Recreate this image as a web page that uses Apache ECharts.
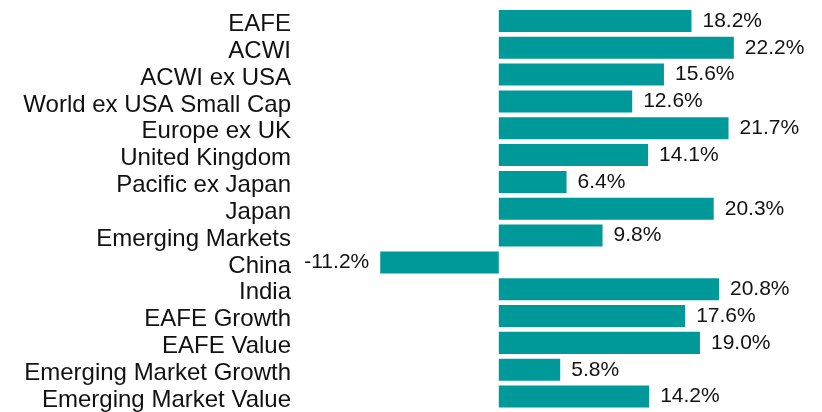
<!DOCTYPE html>
<html>
<head>
<meta charset="utf-8">
<script src="https://cdn.jsdelivr.net/npm/echarts@6/dist/echarts.min.js"></script>
<style>
  html,body{margin:0;padding:0;background:#fff;}
  #chart{width:822px;height:412px;}
</style>
</head>
<body>
<div id="chart"></div>
<script>
// data, top to bottom as in the picture
const categories = [
  "EAFE", "ACWI", "ACWI ex USA", "World ex USA Small Cap", "Europe ex UK",
  "United Kingdom", "Pacific ex Japan", "Japan", "Emerging Markets", "China",
  "India", "EAFE Growth", "EAFE Value", "Emerging Market Growth", "Emerging Market Value"
];
const returns = [18.2, 22.2, 15.6, 12.6, 21.7, 14.1, 6.4, 20.3, 9.8, -11.2, 20.8, 17.6, 19.0, 5.8, 14.2];

const BAR = "#009999";
const FONT = "'Liberation Sans', Arial, sans-serif";

const chart = echarts.init(document.getElementById("chart"));
chart.setOption({
  animation:false,
  backgroundColor:"#fff",
  grid:{left:340, top:7.5, width:476.4, height:403.5},
  xAxis:{type:"value", min:-15, max:30, show:false},
  yAxis:{
    type:"category", data:categories, inverse:true,
    axisLine:{show:false, onZero:false}, axisTick:{show:false},
    axisLabel:{
      interval:0, margin:49,
      formatter:(v)=>"{c|"+v+"}",
      rich:{c:{color:"#111", fontSize:24, fontFamily:FONT, padding:[7,0,0,0]}}
    }
  },
  series:[{
    type:"bar",
    barCategoryGap:"18%",
    itemStyle:{color:BAR},
    data:returns.map(v=>({
      value:v,
      label:{position: v<0 ? "left" : "right"}
    })),
    label:{
      show:true, distance:11, color:"#111", fontSize:21, fontFamily:FONT,
      formatter:(p)=>p.value.toFixed(1)+"%"
    }
  }]
});
</script>
</body>
</html>
